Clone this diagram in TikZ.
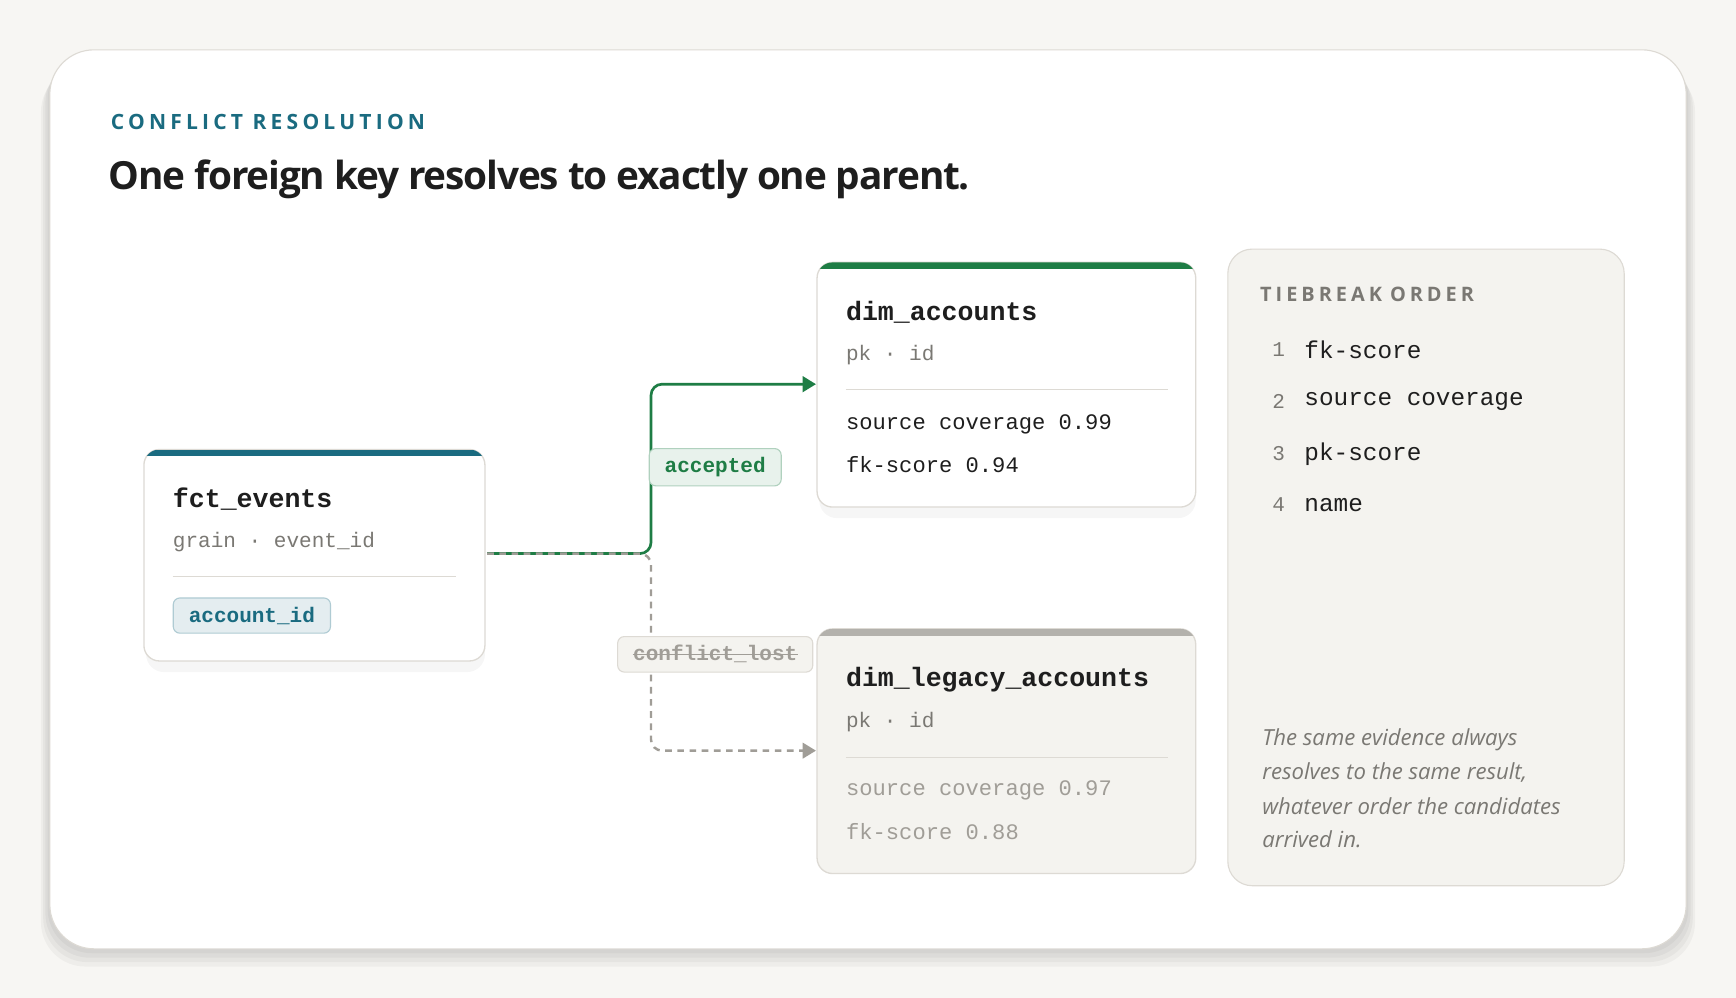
\documentclass[tikz,border=0pt]{standalone}
\usepackage{fontspec}
\setmainfont{Open Sans}
\setmonofont{Liberation Mono}
\usetikzlibrary{positioning,arrows.meta}
\definecolor{pagebg}{HTML}{F7F6F3}
\definecolor{panelbg}{HTML}{F4F3EF}
\definecolor{edgegray}{HTML}{DDDAD4}
\definecolor{teal}{HTML}{1A6B80}
\definecolor{okgreen}{HTML}{1E7D45}
\definecolor{inkdark}{HTML}{1E1E1E}
\definecolor{inkgray}{HTML}{7A7873}
\definecolor{inklight}{HTML}{A09D97}
\tikzset{
  tablebox/.style={draw=edgegray, line width=1.2pt, rounded corners=14pt, fill=white},
  softshadow/.style={fill=black, fill opacity=0.035, draw=none, rounded corners=16pt},
  tname/.style={anchor=west, inner sep=0pt, font=\ttfamily\bfseries\fontsize{24}{28}\selectfont, text=inkdark},
  tsub/.style={anchor=west, inner sep=0pt, font=\ttfamily\fontsize{19}{22}\selectfont, text=inkgray},
  tstat/.style={anchor=west, inner sep=0pt, font=\ttfamily\fontsize{20}{24}\selectfont, text=inkdark},
  pill/.style={rounded corners=6pt, line width=1pt, inner xsep=14pt, inner ysep=8pt, font=\ttfamily\bfseries\fontsize{19}{22}\selectfont},
  rank/.style={anchor=center, inner sep=0pt, font=\ttfamily\fontsize{19}{22}\selectfont, text=inkgray},
  rule/.style={anchor=west, inner sep=0pt, font=\ttfamily\fontsize{22}{26}\selectfont, text=inkdark},
  note/.style={anchor=west, inner sep=0pt, font=\itshape\fontsize{20}{24}\selectfont, text=inkgray},
}
\begin{document}
\begin{tikzpicture}[x=1pt, y=-1pt]
  \fill[pagebg] (0,0) rectangle (1568,901);
  \useasboundingbox (0,0) rectangle (1568,901);
  % card
  \foreach \s in {4,8,12,16}
    \fill[softshadow, rounded corners=40pt] (45-\s/2,45+\s) rectangle (1523+\s/2,857+\s);
  \draw[draw=edgegray, fill=white, line width=1pt, rounded corners=40pt] (45,45) rectangle (1523,857);
  \node[anchor=west, inner sep=0pt, text=teal, font=\bfseries\fontsize{19}{22}\selectfont\addfontfeature{LetterSpace=20}] (kicker) at (100,110) {CONFLICT\hspace{0.45em}RESOLUTION};
  \node[anchor=west, inner sep=0pt, text=inkdark, font=\bfseries\fontsize{35}{40}\selectfont\addfontfeature{LetterSpace=-3}] (title) at (98,162) {One foreign key resolves to exactly one parent.};

  % fct_events
  \fill[softshadow] (132,414) rectangle (438,607);
  \draw[tablebox] (130,406) rectangle (438,597);
  \begin{scope}
    \clip[rounded corners=14pt] (130,406) rectangle (438,597);
    \fill[teal] (130,406) rectangle (438,412);
  \end{scope}
  \node[tname] (fctname) at (156,451) {fct\_events};
  \node[tsub] (fctgrain) at (156,490) {grain · event\_id};
  \draw[edgegray, line width=1pt] (156,521) -- (412,521);
  \node[pill, draw=teal!35, fill=teal!12, text=teal, anchor=west] (fk) at (156,556) {account\_id};
  \coordinate (fctout) at (440,500);

  % dim_accounts
  \fill[softshadow] (740,245) rectangle (1080,468);
  \draw[tablebox] (738,237) rectangle (1080,458);
  \begin{scope}
    \clip[rounded corners=14pt] (738,237) rectangle (1080,458);
    \fill[okgreen] (738,237) rectangle (1080,243);
  \end{scope}
  \node[tname] (accname) at (764,282) {dim\_accounts};
  \node[tsub] (accpk) at (764,321) {pk · id};
  \draw[edgegray, line width=1pt] (764,352) -- (1055,352);
  \node[tstat] (acccov) at (764,383) {source coverage 0.99};
  \node[tstat] (accfk) at (764,420) {fk-score 0.94};
  \coordinate (accin) at (737,347);

  % dim_legacy_accounts
  \draw[tablebox, fill=panelbg] (738,568) rectangle (1080,789);
  \begin{scope}
    \clip[rounded corners=14pt] (738,568) rectangle (1080,789);
    \fill[inklight!80] (738,568) rectangle (1080,574);
  \end{scope}
  \node[tname] (legname) at (764,614) {dim\_legacy\_accounts};
  \node[tsub] (legpk) at (764,652) {pk · id};
  \draw[edgegray, line width=1pt] (764,684) -- (1055,684);
  \node[tstat, text=inklight] (legcov) at (764,714) {source coverage 0.97};
  \node[tstat, text=inklight] (legfk) at (764,751) {fk-score 0.88};
  \coordinate (legin) at (737,678);

  % connectors
  \draw[okgreen, line width=2.4pt, rounded corners=10pt, -{Triangle[length=12pt,width=14pt]}]
    (fctout) -- (588,500) -- (588,347) -- (accin);
  \draw[inklight, line width=2.2pt, dash pattern=on 6pt off 5pt, rounded corners=10pt, -{Triangle[length=12pt,width=14pt]}]
    (fctout) -- (588,500) -- (588,678) -- (legin);
  \node[pill, draw=okgreen!35, fill=okgreen!10, text=okgreen] (accepted) at (646,422) {accepted};
  \node[pill, draw=edgegray, fill=panelbg, text=inklight] (lost) at (646,591) {conflict\_lost};
  \draw[inklight, line width=1.2pt] ([xshift=14pt]lost.west) -- ([xshift=-14pt]lost.east);

  % tiebreak panel
  \draw[draw=edgegray, fill=panelbg, line width=1pt, rounded corners=22pt] (1109,225) rectangle (1467,800);
  \node[anchor=west, inner sep=0pt, text=inkgray, font=\bfseries\fontsize{18}{22}\selectfont\addfontfeature{LetterSpace=20}] (tiehead) at (1138,266) {TIEBREAK\hspace{0.4em}ORDER};
  \foreach \n/\lbl/\y in {1/fk-score/316, 2/source coverage/363, 3/pk-score/410, 4/name/456} {
    \node[rank] (rank\n) at (1155,\y) {\n};
    \node[rule] (rule\n) at (1178,\y) {\lbl};
  }
  \node[note] (note1) at (1140,668) {The same evidence always};
  \node[note] (note2) at (1140,698) {resolves to the same result,};
  \node[note] (note3) at (1140,728) {whatever order the candidates};
  \node[note] (note4) at (1140,758) {arrived in.};
\end{tikzpicture}
\end{document}
